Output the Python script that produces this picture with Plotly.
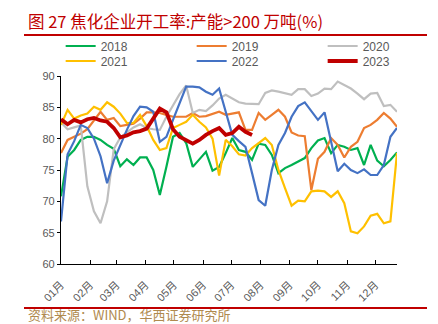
import datetime as dt
import plotly.graph_objects as go

# Weekly data (week index from start of year)
s2018 = [70.8, 77.1, 78.2, 79.8, 80.3, 80.3, 79.8, 79.0, 78.4, 75.6, 76.7, 75.8, 77.0, 77.0,
         75.0, 71.0, 75.5, 80.3, 80.9, 79.3, 75.5, 76.7, 77.9, 74.9, 75.5, 77.7, 80.1, 78.2,
         77.9, 76.6, 79.2, 79.0, 77.4, 74.5, 75.3, 75.8, 76.4, 76.9, 78.5, 79.7, 80.1, 77.7,
         79.0, 78.7, 78.2, 78.5, 75.8, 79.0, 76.5, 75.6, 76.6, 77.8]
s2019 = [77.7, 79.8, 80.3, 80.8, 81.5, 83.0, 84.3, 83.0, 83.3, 82.0, 82.2, 82.4, 83.2, 84.2,
         84.2, 84.1, 83.8, 83.5, 83.5, 83.5, 84.1, 83.5, 83.6, 84.0, 84.3, 83.8, 84.0, 84.2,
         81.4, 81.4, 84.1, 83.0, 83.8, 84.6, 83.5, 81.0, 80.5, 80.4, 71.8, 76.8, 77.9, 80.1,
         79.0, 77.0, 78.7, 79.5, 81.7, 82.2, 83.0, 84.1, 83.2, 81.9]
s2020 = [82.6, 81.5, 81.8, 82.1, 72.4, 68.4, 66.5, 70.0, 78.3, 80.2, 81.0, 81.8, 82.3, 81.7,
         81.5, 81.4, 83.5, 85.4, 87.1, 88.5, 84.1, 84.6, 84.4, 85.3, 86.4, 87.0, 86.4, 85.8,
         85.6, 85.6, 85.5, 87.3, 87.7, 87.5, 87.3, 87.0, 87.9, 87.9, 86.8, 87.2, 88.0, 87.9,
         89.1, 88.6, 88.0, 87.2, 86.3, 87.2, 87.3, 85.2, 85.4, 84.3]
s2021 = [82.2, 84.6, 83.2, 83.7, 84.0, 85.1, 84.6, 85.8, 85.1, 84.0, 82.5, 82.5, 83.8, 82.0,
         79.8, 78.2, 78.5, 81.7, 82.2, 82.7, 83.8, 82.7, 81.8, 80.0, 74.1, 79.8, 78.8, 77.5,
         77.3, 78.5, 79.3, 80.1, 79.0, 75.0, 72.1, 69.3, 70.1, 70.0, 71.6, 71.7, 71.6, 70.7,
         71.6, 69.7, 65.2, 64.9, 66.0, 67.7, 68.0, 66.5, 66.8, 77.7]
s2022 = [66.8, 77.5, 79.6, 82.2, 81.7, 80.0, 77.2, 72.9, 76.5, 79.0, 81.4, 83.6, 85.1, 85.0,
         84.3, 79.5, 80.3, 83.0, 85.6, 88.3, 88.3, 88.2, 87.5, 87.0, 88.0, 84.4, 80.6, 79.6,
         78.7, 74.5, 70.2, 69.3, 75.0, 79.0, 80.9, 83.5, 85.2, 85.8, 84.3, 83.0, 84.2, 79.5,
         74.8, 76.0, 75.0, 74.5, 75.1, 74.2, 74.2, 75.8, 80.3, 81.7]
s2023 = [83.1, 82.3, 83.0, 82.6, 83.1, 83.3, 82.9, 82.7, 81.7, 80.2, 80.5, 81.0, 81.2, 81.6,
         83.2, 84.8, 84.2, 81.5, 80.3, 79.8, 79.2, 79.8, 80.6, 81.2, 81.7, 80.6, 80.9, 81.9,
         81.1, 80.6]

series_names = ["2018", "2019", "2020", "2021", "2022", "2023"]
series_vals = [s2018, s2019, s2020, s2021, s2022, s2023]
colors = ["#00b050", "#ed7d31", "#bfbfbf", "#ffc000", "#4472c4", "#c00000"]
widths = [2.2, 2.2, 2.2, 2.2, 2.2, 3.8]
legends = ["legend", "legend", "legend", "legend2", "legend2", "legend2"]

base = dt.date(2021, 1, 1)


def week_dates(n):
    return [base + dt.timedelta(days=7 * i) for i in range(n)]


fig = go.Figure()
for name, vals, c, w, lg in zip(series_names, series_vals, colors, widths, legends):
    fig.add_trace(go.Scatter(
        x=week_dates(len(vals)), y=vals, mode="lines", name=name,
        line=dict(color=c, width=w), legend=lg,
    ))

W, H = 438, 324
L, R, T, B = 61, 41, 76, 60
pw, ph = W - L - R, H - T - B


def px(xp):
    return (xp - L) / pw


def py(yp):
    return (H - B - yp) / ph


legend_font = dict(family="Liberation Sans, Arial, sans-serif", size=12, color="#595959")

fig.update_layout(
    width=W, height=H,
    margin=dict(l=L, r=R, t=T, b=B, autoexpand=False),
    paper_bgcolor="white", plot_bgcolor="white",
    showlegend=True,
    legend=dict(orientation="h", x=-0.001, xanchor="left", y=py(46), yanchor="middle",
                font=legend_font, entrywidth=86, bgcolor="rgba(0,0,0,0)", traceorder="normal"),
    legend2=dict(orientation="h", x=-0.001, xanchor="left", y=py(61), yanchor="middle",
                 font=legend_font, entrywidth=86, bgcolor="rgba(0,0,0,0)", traceorder="normal"),
    xaxis=dict(
        type="date", range=["2021-01-01", "2021-12-24"],
        tick0="2021-01-01", dtick="M1", tickformat="%m月", tickangle=-45,
        showline=True, linecolor="black", linewidth=1.3,
        ticks="inside", ticklen=4, tickcolor="black",
        showgrid=False, zeroline=False,
        tickfont=dict(family="Liberation Sans, Noto Sans CJK SC, sans-serif", size=11, color="#595959"),
        ticklabelstandoff=9,
    ),
    yaxis=dict(
        range=[60, 90], dtick=5, tick0=60,
        showline=True, linecolor="black", linewidth=1.3,
        ticks="outside", ticklen=3, tickcolor="black",
        showgrid=False, zeroline=False,
        tickfont=dict(family="Liberation Sans, Arial, sans-serif", size=11, color="#595959"),
    ),
    annotations=[
        dict(text="图 27 焦化企业开工率:产能>200 万吨(%)", xref="paper", yref="paper",
             x=px(26), y=py(21), xanchor="left", yanchor="middle", showarrow=False,
             font=dict(family="Noto Sans CJK SC, sans-serif", size=16.5, color="#c00000")),
        dict(text="资料来源：WIND，华西证券研究所", xref="paper", yref="paper",
             x=px(26), y=py(314), xanchor="left", yanchor="middle", showarrow=False,
             font=dict(family="Noto Sans CJK SC, sans-serif", size=13, color="#b08a4e")),
    ],
    shapes=[
        dict(type="line", xref="paper", yref="paper", x0=px(24), x1=px(427), y0=py(35), y1=py(35),
             line=dict(color="#c00000", width=2.2)),
        dict(type="line", xref="paper", yref="paper", x0=px(24), x1=px(427), y0=py(308), y1=py(308),
             line=dict(color="#c00000", width=2.2)),
    ],
)

fig.write_html("out.html")
